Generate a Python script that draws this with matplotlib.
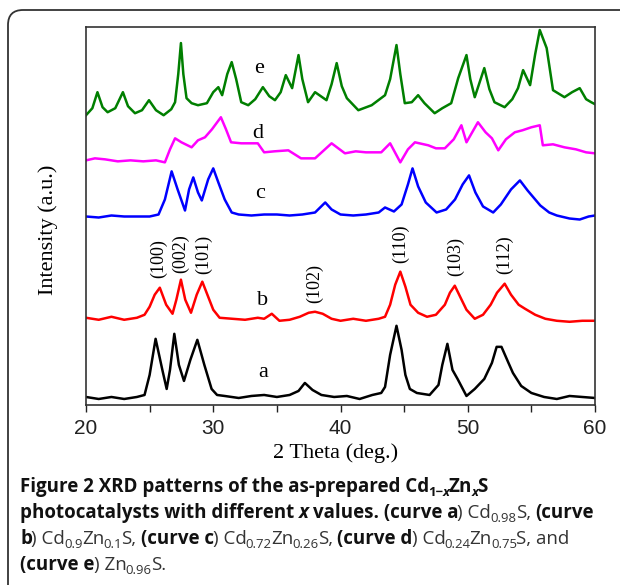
import matplotlib
matplotlib.use("Agg")
import matplotlib.pyplot as plt
from matplotlib.patches import FancyBboxPatch

# 2 theta positions (deg) and intensities (a.u.), curves already stacked
xa = [20.0, 21.0, 22.0, 23.0, 24.0, 24.6, 25.0, 25.47, 26.0, 26.34, 26.6, 26.94, 27.3, 27.7, 28.2, 28.75,
      29.3, 29.87, 30.3, 30.9, 32.0, 33.0, 34.0, 35.0, 36.0, 36.7, 37.2, 37.8, 38.5, 39.5, 40.5, 41.5,
      42.5, 43.2, 43.5, 43.9, 44.4, 44.8, 45.1, 45.45, 46.0, 47.0, 47.7, 48.0, 48.4, 48.8, 49.2, 49.9,
      50.55, 51.3, 51.9, 52.27, 52.65, 53.2, 53.55, 54.2, 55.0, 56.0, 57.0, 58.0, 59.0, 60.0]
ya = [8, 6, 8, 6, 8, 10, 30, 66, 35, 16, 35, 71, 40, 24, 45, 65,
      40, 16, 10, 9, 7, 9, 10, 8, 10, 14, 22, 15, 10, 8, 9, 6,
      10, 12, 18, 50, 79, 55, 30, 16, 12, 10, 20, 40, 61, 35, 26, 9,
      16, 26, 42, 58, 58, 42, 32, 19, 12, 8, 6, 9, 8, 7]

xb = [20.0, 21.0, 22.0, 23.0, 24.0, 24.6, 25.0, 25.4, 25.8, 26.3, 26.8, 27.1, 27.46, 27.8, 28.25, 28.7,
      29.14, 29.6, 30.0, 30.5, 31.5, 32.5, 33.5, 34.0, 34.6, 35.2, 36.0, 36.8, 37.5, 38.0, 38.6, 39.3,
      40.0, 41.0, 42.0, 43.0, 43.5, 43.9, 44.3, 44.7, 45.1, 45.5, 46.1, 46.8, 47.5, 48.2, 48.6, 48.98,
      49.4, 49.9, 50.55, 51.2, 51.8, 52.3, 52.9, 53.4, 54.0, 54.5, 55.3, 56.1, 57.0, 58.0, 59.0, 60.0]
yb = [87, 85, 88, 85, 87, 90, 98, 110, 117, 100, 91, 105, 125, 105, 92, 110,
      123, 108, 95, 87, 86, 85, 87, 86, 91, 84, 85, 88, 92, 93, 91, 86,
      84, 86, 84, 86, 88, 100, 120, 133, 118, 100, 92, 88, 90, 100, 112, 119,
      108, 95, 86, 90, 100, 112, 121, 110, 100, 96, 90, 86, 84, 83, 84, 84]

xc = [20.0, 21.0, 22.0, 23.0, 24.0, 25.0, 25.7, 26.2, 26.73, 27.2, 27.78, 28.1, 28.43, 28.8, 29.1, 29.6,
      30.0, 30.4, 30.9, 31.45, 32.0, 33.0, 34.0, 35.0, 36.0, 37.0, 38.0, 38.8, 39.3, 40.0, 41.0, 42.0,
      43.0, 43.5, 44.2, 44.8, 45.3, 45.66, 46.1, 46.7, 47.55, 48.3, 49.0, 49.6, 50.1, 50.6, 51.2, 52.0,
      52.6, 53.4, 54.1, 54.7, 55.7, 56.4, 57.0, 58.0, 58.8, 59.5, 60.0]
yc = [188, 187, 189, 188, 188, 188, 190, 205, 233, 215, 194, 215, 227, 212, 204, 225,
      236, 222, 205, 192, 190, 189, 190, 190, 189, 190, 192, 202, 195, 190, 189, 190,
      192, 197, 193, 200, 220, 236, 218, 202, 192, 195, 205, 220, 229, 212, 198, 192,
      200, 215, 224, 214, 199, 192, 189, 186, 185, 188, 189]

xd = [20.0, 20.7, 21.5, 22.5, 23.5, 24.5, 25.5, 26.2, 26.6, 27.0, 27.5, 28.3, 28.8, 29.35, 29.9, 30.6,
      31.0, 31.4, 32.2, 33.5, 34.0, 34.8, 35.9, 36.9, 38.0, 39.3, 40.35, 41.2, 42.0, 43.2, 43.9, 44.7,
      45.3, 45.85, 46.9, 47.5, 48.2, 48.9, 49.5, 49.9, 50.8, 51.4, 51.9, 52.4, 53.0, 53.7, 54.3, 55.0,
      55.66, 55.9, 56.7, 57.6, 58.5, 59.3, 60.0]
yd = [244, 246, 245, 243, 244, 243, 244, 242, 255, 266, 262, 257, 264, 267, 275, 287,
      275, 262, 261, 261, 252, 253, 254, 246, 246, 261, 251, 253, 252, 252, 261, 242,
      255, 262, 259, 256, 256, 265, 279, 262, 282, 272, 266, 254, 265, 272, 274, 277,
      279, 259, 260, 257, 255, 252, 251]

xe = [20.0, 20.5, 20.9, 21.3, 21.7, 22.3, 22.9, 23.3, 23.85, 24.4, 24.95, 25.5, 26.1, 26.7, 27.0, 27.25,
      27.46, 27.65, 27.9, 28.3, 28.8, 29.5, 30.0, 30.4, 30.7, 31.1, 31.45, 31.8, 32.2, 32.75, 33.3, 33.9,
      34.4, 34.85, 35.3, 35.7, 36.2, 36.7, 37.0, 37.45, 38.0, 38.9, 39.3, 39.7, 40.1, 40.5, 41.4, 42.45,
      43.5, 43.9, 44.4, 44.7, 45.05, 45.6, 46.1, 46.6, 47.4, 48.0, 48.7, 49.25, 49.9, 50.2, 50.55, 51.3,
      51.7, 52.1, 52.9, 53.5, 53.95, 54.35, 54.9, 55.3, 55.66, 56.2, 56.7, 57.6, 58.2, 58.8, 59.3, 59.7, 60.0]
ye = [289, 296, 312, 297, 292, 296, 312, 298, 291, 294, 304, 294, 289, 295, 302, 330,
      361, 330, 306, 301, 299, 301, 312, 317, 309, 330, 342, 325, 302, 299, 305, 317,
      308, 304, 312, 329, 316, 349, 325, 302, 312, 304, 320, 341, 318, 306, 294, 299,
      309, 325, 359, 330, 301, 302, 309, 301, 291, 296, 301, 326, 349, 325, 307, 336,
      315, 302, 297, 305, 316, 334, 319, 350, 374, 356, 314, 307, 312, 316, 305, 302, 300]

curve_names = ["a", "b", "c", "d", "e"]
curve_colors = ["black", "#ff0000", "#0000ff", "#ff00ff", "#007f00"]
name_x = [33.9, 33.9, 33.7, 33.5, 33.6]
name_y = [32, 104, 211, 271, 336]

planes = ["(100)", "(002)", "(101)", "(102)", "(110)", "(103)", "(112)"]
plane_x = [25.73, 27.44, 29.21, 37.99, 44.72, 49.04, 52.91]
plane_y = [127, 132, 131, 102, 142, 129, 131]

W, H = 620, 585
fig = plt.figure(figsize=(W / 100, H / 100), dpi=100)
ax = fig.add_axes([86 / W, 1 - 405 / H, (595 - 86) / W, (405 - 27) / H])

for xs, ys, c in zip([xa, xb, xc, xd, xe], [ya, yb, yc, yd, ye], curve_colors):
    ax.plot(xs, ys, color=c, lw=1.8)

serif = "Liberation Serif"
for n, x, y in zip(curve_names, name_x, name_y):
    ax.text(x, y, n, family=serif, fontsize=16, ha="center", va="center")
for p, x, y in zip(planes, plane_x, plane_y):
    ax.text(x, y, p, family=serif, fontsize=13, rotation=90, ha="center", va="bottom")

ax.set_xlim(20, 60)
ax.set_ylim(0, 377)
ax.set_xticks([20, 30, 40, 50, 60])
ax.set_xticks([25, 35, 45, 55], minor=True)
ax.set_yticks([])
ax.tick_params(axis="x", which="both", direction="out", length=5, width=1, colors="#222", labelsize=15, pad=5)
for lab in ax.get_xticklabels():
    lab.set_family("Liberation Sans")
for s in ax.spines.values():
    s.set_color("#333")
    s.set_linewidth(1.2)

ax.set_xlabel("2 Theta (deg.)", family=serif, fontsize=16)
ax.xaxis.set_label_coords((336 - 86) / 509, -(443 - 405) / 378)
ax.set_ylabel("Intensity (a.u.)", family=serif, fontsize=16)
ax.yaxis.set_label_coords(-(86 - 58) / 509, (405 - 230) / 378)

# rounded frame around the figure panel
fig.add_artist(FancyBboxPatch((0.08, -1), 7, 6.75, boxstyle="round,pad=0,rounding_size=0.15",
                              transform=fig.dpi_scale_trans, fill=False, lw=1.3, ec="#333"))

# caption, drawn run by run to mix bold / regular / subscripts
FS = 13.5
r = fig.canvas.get_renderer()


def caption_line(y, runs, x=20):
    for s, bold, it, sub in runs:
        size = FS * 0.7 if sub else FS
        sp = 0.27 * size * 100 / 72
        lead = len(s) - len(s.lstrip(" "))
        trail = len(s) - len(s.rstrip(" "))
        x += lead * sp
        t = fig.text(x / W, 1 - (y + (4 if sub else 0)) / H, s.strip(" "), family="Open Sans",
                     fontsize=size, weight="bold" if bold else "normal",
                     style="italic" if it else "normal", color="#111" if bold else "#333",
                     ha="left", va="baseline")
        x += t.get_window_extent(r).width + trail * sp - 0.8


caption_line(492, [("Figure 2 XRD patterns of the as-prepared Cd", 1, 0, 0), ("1\u2212", 1, 0, 1),
                   ("x", 1, 1, 1), ("Zn", 1, 0, 0), ("x", 1, 1, 1), ("S", 1, 0, 0)])
caption_line(518, [("photocatalysts with different ", 1, 0, 0), ("x", 1, 1, 0),
                   (" values. (curve a", 1, 0, 0), (") Cd", 0, 0, 0), ("0.98", 0, 0, 1),
                   ("S, ", 0, 0, 0), ("(curve", 1, 0, 0)])
caption_line(544, [("b", 1, 0, 0), (") Cd", 0, 0, 0), ("0.9", 0, 0, 1), ("Zn", 0, 0, 0), ("0.1", 0, 0, 1),
                   ("S, ", 0, 0, 0), ("(curve c", 1, 0, 0), (") Cd", 0, 0, 0), ("0.72", 0, 0, 1),
                   ("Zn", 0, 0, 0), ("0.26", 0, 0, 1), ("S, ", 0, 0, 0), ("(curve d", 1, 0, 0),
                   (") Cd", 0, 0, 0), ("0.24", 0, 0, 1), ("Zn", 0, 0, 0), ("0.75", 0, 0, 1),
                   ("S, and", 0, 0, 0)])
caption_line(570, [("(curve e", 1, 0, 0), (") Zn", 0, 0, 0), ("0.96", 0, 0, 1), ("S.", 0, 0, 0)])

fig.savefig("out.png", dpi=100)
